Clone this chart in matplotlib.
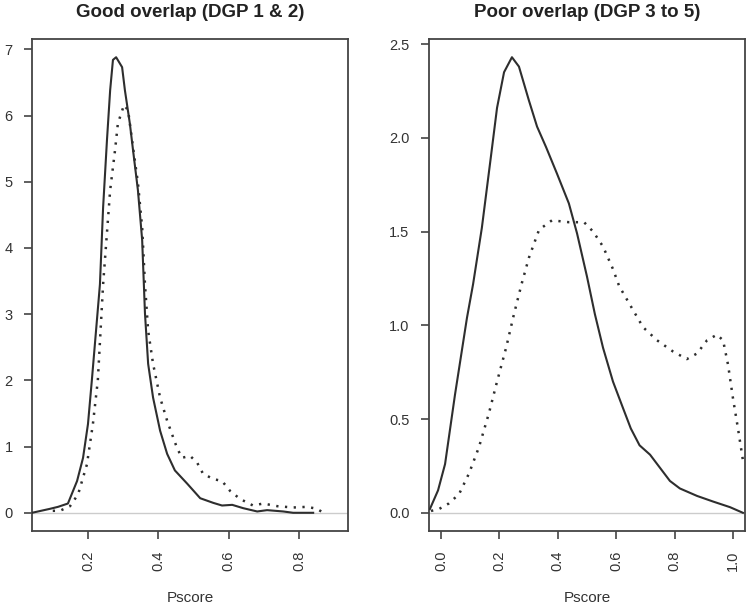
import matplotlib
matplotlib.use('Agg')
import matplotlib.pyplot as plt

plt.rcParams['font.family'] = ['Liberation Sans', 'DejaVu Sans']

# Good overlap (DGP 1 & 2)
good_solid_x = [0.041, 0.092, 0.115, 0.143, 0.169, 0.186, 0.200, 0.211, 0.234, 0.243, 0.254,
                0.263, 0.271, 0.280, 0.297, 0.305, 0.319, 0.328, 0.342, 0.354, 0.362, 0.371,
                0.385, 0.405, 0.425, 0.447, 0.482, 0.519, 0.556, 0.581, 0.610, 0.641, 0.681,
                0.709, 0.755, 0.783, 0.840]
good_solid_y = [0.0, 0.06, 0.09, 0.14, 0.48, 0.83, 1.34, 2.0, 3.45, 4.61, 5.63,
                6.38, 6.84, 6.88, 6.73, 6.38, 5.88, 5.48, 4.87, 4.12, 3.01, 2.25,
                1.74, 1.24, 0.89, 0.64, 0.44, 0.22, 0.15, 0.11, 0.12, 0.07, 0.02,
                0.04, 0.02, 0.0, 0.0]

good_dot_x = [0.100, 0.120, 0.149, 0.172, 0.197, 0.214, 0.228, 0.243, 0.263, 0.277, 0.285,
              0.300, 0.302, 0.314, 0.328, 0.342, 0.354, 0.362, 0.371, 0.385, 0.405, 0.425,
              0.453, 0.467, 0.490, 0.510, 0.527, 0.556, 0.581, 0.604, 0.632, 0.669, 0.698,
              0.738, 0.783, 0.823, 0.851, 0.869]
good_dot_y = [0.03, 0.03, 0.10, 0.28, 0.73, 1.34, 2.0, 3.45, 4.87, 5.48, 5.88,
              6.12, 6.16, 6.08, 5.52, 4.98, 4.31, 3.45, 2.75, 2.25, 1.74, 1.39,
              0.98, 0.83, 0.86, 0.76, 0.59, 0.51, 0.48, 0.33, 0.21, 0.11, 0.14,
              0.10, 0.08, 0.09, 0.06, 0.0]

# Poor overlap (DGP 3 to 5)
poor_solid_x = [-0.038, -0.010, 0.014, 0.048, 0.089, 0.110, 0.140, 0.171, 0.192, 0.216, 0.243,
                0.267, 0.301, 0.329, 0.360, 0.397, 0.438, 0.466, 0.500, 0.527, 0.555, 0.589,
                0.623, 0.650, 0.680, 0.716, 0.750, 0.784, 0.818, 0.877, 0.932, 0.990, 1.034]
poor_solid_y = [0.02, 0.12, 0.26, 0.63, 1.04, 1.22, 1.52, 1.90, 2.16, 2.35, 2.43,
                2.38, 2.20, 2.06, 1.95, 1.81, 1.65, 1.49, 1.26, 1.06, 0.88, 0.70,
                0.56, 0.45, 0.36, 0.31, 0.24, 0.17, 0.13, 0.09, 0.06, 0.03, 0.0]

poor_dot_x = [-0.034, -0.007, 0.027, 0.062, 0.096, 0.130, 0.164, 0.192, 0.223, 0.250, 0.276,
              0.301, 0.336, 0.380, 0.438, 0.490, 0.521, 0.555, 0.589, 0.610, 0.647, 0.692,
              0.740, 0.795, 0.842, 0.877, 0.911, 0.945, 0.966, 0.983, 1.000, 1.017, 1.034, 1.041]
poor_dot_y = [0.01, 0.02, 0.05, 0.10, 0.21, 0.35, 0.53, 0.70, 0.88, 1.06, 1.22,
              1.36, 1.51, 1.56, 1.55, 1.55, 1.50, 1.42, 1.30, 1.21, 1.11, 0.99,
              0.92, 0.86, 0.82, 0.85, 0.92, 0.95, 0.92, 0.79, 0.61, 0.45, 0.28, 0.26]

panels = [
    dict(title='Good overlap (DGP 1 & 2)', solid=(good_solid_x, good_solid_y),
         dot=(good_dot_x, good_dot_y), xlim=(0.041, 0.939), ylim=(-0.275, 7.155),
         xticks=[0.2, 0.4, 0.6, 0.8], xlabels=['0.2', '0.4', '0.6', '0.8'],
         yticks=[0, 1, 2, 3, 4, 5, 6, 7], ylabels=['0', '1', '2', '3', '4', '5', '6', '7'],
         pos=[0.0427, 0.1252, 0.4213, 0.8105]),
    dict(title='Poor overlap (DGP 3 to 5)', solid=(poor_solid_x, poor_solid_y),
         dot=(poor_dot_x, poor_dot_y), xlim=(-0.041, 1.041), ylim=(-0.097, 2.527),
         xticks=[0.0, 0.2, 0.4, 0.6, 0.8, 1.0],
         xlabels=['0.0', '0.2', '0.4', '0.6', '0.8', '1.0'],
         yticks=[0.0, 0.5, 1.0, 1.5, 2.0, 2.5],
         ylabels=['0.0', '0.5', '1.0', '1.5', '2.0', '2.5'],
         pos=[0.572, 0.1252, 0.4213, 0.8105]),
]

fig = plt.figure(figsize=(7.5, 6.07), dpi=100)
line_col = '#2e2e2e'
text_col = '#333333'

for p in panels:
    ax = fig.add_axes(p['pos'])
    ax.axhline(0, color='#cccccc', lw=1.0, zorder=1)
    ax.plot(*p['solid'], color=line_col, lw=1.5, solid_joinstyle='round', zorder=3)
    ax.plot(*p['dot'], color=line_col, lw=1.8, dashes=(0.9, 2.6), zorder=3)
    ax.set_xlim(*p['xlim'])
    ax.set_ylim(*p['ylim'])
    ax.set_xticks(p['xticks'])
    ax.set_xticklabels(p['xlabels'], rotation=90)
    ax.set_yticks(p['yticks'])
    ax.set_yticklabels(p['ylabels'])
    ax.tick_params(length=6, width=1.2, color='#444444', labelcolor=text_col,
                   labelsize=10.5, pad=8)
    for s in ax.spines.values():
        s.set_color('#444444')
        s.set_linewidth(1.3)
    ax.set_xlabel('Pscore', fontsize=11, color=text_col)
    ax.xaxis.set_label_coords(0.5, -0.136)
    ax.xaxis.label.set_va('center')
    ax.text(0.5, 1.053, p['title'], transform=ax.transAxes, ha='center', va='center',
            fontsize=13.5, fontweight='bold', color='#222222')

fig.savefig('out.png', dpi=100)
